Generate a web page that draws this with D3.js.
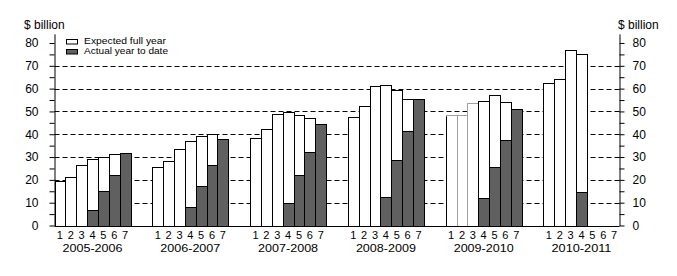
<!DOCTYPE html>
<html>
<head>
<meta charset="utf-8">
<script src="https://cdn.jsdelivr.net/npm/d3@7"></script>
<style>
  body { margin: 0; background: #fff; }
  svg { font-family: "Liberation Sans", Arial, sans-serif; }
</style>
</head>
<body>
<svg id="chart"></svg>
<script>
// financial years and months shown for each
const years = ['2005-2006', '2006-2007', '2007-2008', '2008-2009', '2009-2010', '2010-2011'];
const months = [1, 2, 3, 4, 5, 6, 7];

// expected full year ($ billion), one row per year
const expected = [
  [19.4, 21.4, 26.4, 29.0, 30.2, 31.2, 31.7],
  [25.5, 28.2, 33.7, 36.9, 39.1, 40.0, 37.8],
  [38.2, 42.5, 48.8, 49.6, 48.3, 47.3, 44.4],
  [47.5, 52.4, 61.0, 61.6, 59.3, 55.6, 55.6],
  [48.3, 48.3, 53.9, 54.5, 57.1, 54.0, 51.2],
  [62.6, 64.1, 76.8, 75.2, null, null, null]
];

// actual year to date ($ billion)
const actual = [
  [null, null, null, 6.7, 15.0, 22.0, 31.7],
  [null, null, null, 8.2, 17.2, 26.4, 37.8],
  [null, null, null, 9.7, 22.0, 32.1, 44.4],
  [null, null, null, 12.4, 28.7, 41.3, 55.6],
  [null, null, null, 12.1, 25.5, 37.4, 51.2],
  [null, null, null, 14.6, null, null, null]
];

// months drawn with a grey outline
const greyYear = '2009-2010';
const greyMonths = [1, 2, 3];

const yTicks = d3.range(0, 81, 5);
const legendLabels = ['Expected full year', 'Actual year to date'];

const width = 677, height = 276;
const left = 54.5, right = 619.5, bottom = 225.5;

const svg = d3.select('#chart')
    .attr('width', width)
    .attr('height', height);

const xOuter = d3.scaleBand()
    .domain(years)
    .range([left, right])
    .paddingInner(2 / 9)
    .paddingOuter(0);

const xInner = d3.scaleBand()
    .domain(months)
    .range([0, xOuter.bandwidth()]);

// axis line runs a little above 80
const y = d3.scaleLinear()
    .domain([0, 84])
    .range([bottom, bottom - 84 * 2.2813]);

// dashed grid lines
svg.append('g')
  .selectAll('line')
  .data(d3.range(10, 71, 10))
  .join('line')
    .attr('x1', left)
    .attr('x2', right)
    .attr('y1', d => Math.round(y(d)) + 0.5)
    .attr('y2', d => Math.round(y(d)) + 0.5)
    .attr('stroke', '#000')
    .attr('stroke-dasharray', '5,3');

// flatten data for bars
let expRows = [], actRows = [];
years.forEach((yr, i) => {
  months.forEach((m, j) => {
    if (expected[i][j] != null) expRows.push({year: yr, month: m, v: expected[i][j],
      grey: yr === greyYear && greyMonths.includes(m)});
    if (actual[i][j] != null) actRows.push({year: yr, month: m, v: actual[i][j]});
  });
});
expRows.sort((a, b) => (b.grey ? 1 : 0) - (a.grey ? 1 : 0));

const px = d => Math.round(xOuter(d.year) + xInner(d.month)) + 0.5;
const pw = d => Math.round(xOuter(d.year) + xInner(d.month) + xInner.bandwidth()) - Math.round(xOuter(d.year) + xInner(d.month));
const py = d => Math.round(y(d.v)) + 0.5;
const ph = d => Math.round(bottom) - Math.round(y(d.v));

svg.append('g')
  .selectAll('rect')
  .data(expRows)
  .join('rect')
    .attr('x', px)
    .attr('y', py)
    .attr('width', pw)
    .attr('height', ph)
    .attr('fill', '#fff')
    .attr('stroke', d => d.grey ? '#a0a0a0' : '#000')
    .attr('stroke-width', 1);

// left side of the first grey bar stays black
const firstGrey = expRows.find(d => d.grey);
svg.append('line')
    .attr('x1', px(firstGrey)).attr('x2', px(firstGrey))
    .attr('y1', py(firstGrey) + 1).attr('y2', Math.round(bottom))
    .attr('stroke', '#000');

svg.append('g')
  .selectAll('rect')
  .data(actRows)
  .join('rect')
    .attr('x', px)
    .attr('y', py)
    .attr('width', pw)
    .attr('height', ph)
    .attr('fill', '#606060')
    .attr('stroke', '#000')
    .attr('stroke-width', 1);

// baseline
svg.append('line')
    .attr('x1', left).attr('x2', right)
    .attr('y1', Math.round(bottom) + 0.5).attr('y2', Math.round(bottom) + 0.5)
    .attr('stroke', '#000');

// axes
const fmt = d => d % 10 === 0 ? d : '';

const yLeft = svg.append('g')
    .attr('transform', `translate(${left},0)`)
    .call(d3.axisLeft(y).tickValues(yTicks).tickFormat(fmt)
      .tickSize(5).tickSizeOuter(0).tickPadding(11));

const yRight = svg.append('g')
    .attr('transform', `translate(${right},0)`)
    .call(d3.axisRight(y).tickValues(yTicks).tickFormat(fmt)
      .tickSize(5).tickSizeOuter(0).tickPadding(8));

[yLeft, yRight].forEach(g => {
  g.selectAll('text').attr('font-size', '12px').attr('fill', '#000')
    .attr('font-family', '"Liberation Sans", Arial, sans-serif');
  g.selectAll('line, path').attr('stroke', '#000');
});

svg.append('text')
    .attr('x', 24).attr('y', 29)
    .attr('font-size', '12px')
    .text('$ billion');

svg.append('text')
    .attr('x', 618).attr('y', 29)
    .attr('font-size', '12px')
    .text('$ billion');

// month numbers and year labels
const xg = svg.append('g');
years.forEach(yr => {
  xg.append('g')
    .selectAll('text')
    .data(months)
    .join('text')
      .attr('x', m => xOuter(yr) + xInner(m) + xInner.bandwidth() / 2)
      .attr('y', 239)
      .attr('text-anchor', 'middle')
      .attr('font-size', '11px')
      .text(m => m);
  xg.append('text')
    .attr('x', xOuter(yr) + xOuter.bandwidth() / 2)
    .attr('y', 252)
    .attr('text-anchor', 'middle')
    .attr('font-size', '11px')
    .attr('textLength', 60)
    .attr('lengthAdjust', 'spacingAndGlyphs')
    .text(yr);
});

// legend
const legend = svg.append('g');
legendLabels.forEach((lbl, i) => {
  legend.append('rect')
    .attr('x', 66.5).attr('y', 39.5 + i * 10)
    .attr('width', 11).attr('height', 4.5)
    .attr('fill', i === 0 ? '#fff' : '#606060')
    .attr('stroke', '#000');
  legend.append('text')
    .attr('x', 84).attr('y', 44 + i * 10)
    .attr('font-size', '9px')
    .attr('textLength', i === 0 ? 82 : 84)
    .attr('lengthAdjust', 'spacingAndGlyphs')
    .text(lbl);
});
</script>
</body>
</html>
